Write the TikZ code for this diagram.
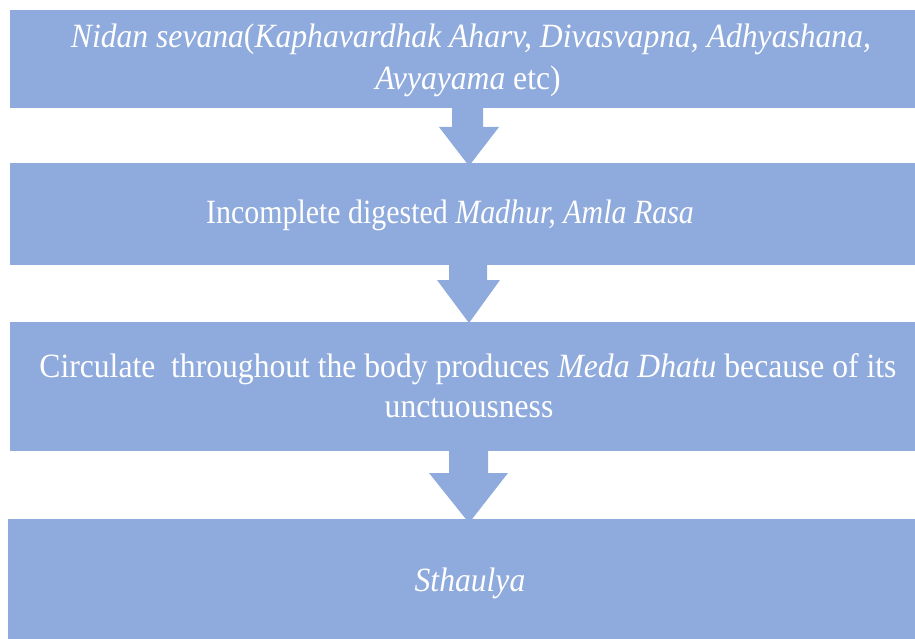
\documentclass[tikz,border=0pt]{standalone}
\usepackage{fontspec}
\setmainfont[FakeStretch=0.93]{Liberation Serif}
\definecolor{boxblue}{RGB}{143,170,220}
\begin{document}
\begin{tikzpicture}[x=1pt,y=-1pt,
  boxfill/.style={fill=boxblue,draw=none},
  txt/.style={text=white,anchor=base,inner sep=0pt,font=\fontsize{34pt}{41pt}\selectfont}]
\useasboundingbox (0,0) rectangle (915,639);
% boxes
\fill[boxblue] (10,10) rectangle (930,108);
\fill[boxblue] (10,163) rectangle (930,265);
\fill[boxblue] (10,322) rectangle (930,451);
\fill[boxblue] (8,519) rectangle (930,650);
% arrows
\fill[boxblue] (452,108) -- (483,108) -- (483,127) -- (499,127) -- (469,166) -- (439,127) -- (452,127) -- cycle;
\fill[boxblue] (449,265) -- (487,265) -- (487,280) -- (500,280) -- (469,323) -- (437,280) -- (449,280) -- cycle;
\fill[boxblue] (449,451) -- (488,451) -- (488,473) -- (508,473) -- (469,523) -- (429,473) -- (449,473) -- cycle;
% texts
\node[txt] (t1a) at (471,48) {\textit{Nidan sevana}(\textit{Kaphavardhak Aharv, Divasvapna, Adhyashana,}};
\node[txt] (t1b) at (468,90) {\textit{Avyayama} etc)};
\node[txt] (t2) at (450,223) {\fontspec[FakeStretch=0.88]{Liberation Serif}Incomplete digested \textit{Madhur, Amla Rasa}};
\node[txt] (t3a) at (468,377) {Circulate\ \ throughout the body produces \textit{Meda Dhatu} because of its};
\node[txt] (t3b) at (469,417) {unctuousness};
\node[txt] (t4) at (470,591) {\textit{Sthaulya}};
\end{tikzpicture}
\end{document}
